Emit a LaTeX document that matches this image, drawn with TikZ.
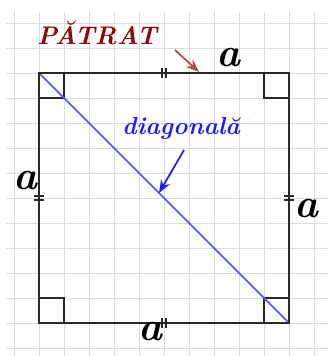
\documentclass[tikz,border=0pt]{standalone}
\usepackage{amsmath}
\usepackage{tikz}
\usetikzlibrary{arrows.meta,calc}
\definecolor{sqRed}{RGB}{140,10,10}
\definecolor{sqArrow}{RGB}{175,75,75}
\definecolor{sqBlue}{RGB}{30,30,250}
\definecolor{sqDiag}{RGB}{80,80,255}
\definecolor{sqEdge}{RGB}{40,40,40}

\begin{document}
\begin{tikzpicture}[
    x=0.5cm, y=0.5cm,
    gridline/.style={draw=black!14, line width=0.5pt, step=0.5cm},
    edge/.style    ={draw=sqEdge, line width=1.2pt},
    rightang/.style={draw=sqEdge, line width=0.9pt},
    tick/.style    ={draw=sqEdge, line width=0.9pt},
    side/.style    ={font=\fontsize{23}{24}\selectfont\bfseries\itshape},
    title/.style   ={font=\fontsize{14.5}{16}\selectfont\bfseries\itshape, text=sqRed},
    diaglbl/.style ={font=\fontsize{14}{16}\selectfont\bfseries\itshape, text=sqBlue},
    arr/.style     ={-{Stealth[length=2.6mm,width=2mm]}, line width=1pt}
]
\useasboundingbox (-1.56,-1.32) rectangle (11.56,12.92);
\draw[gridline] (-1.32,-1.32) grid (11.56,12.44);

% corners of the square
\coordinate (A) at (0,0);
\coordinate (B) at (10,0);
\coordinate (C) at (10,10);
\coordinate (D) at (0,10);

% right angles
\draw[rightang] (A) rectangle ++(1,1);
\draw[rightang] (B) rectangle ++(-1,1);
\draw[rightang] (C) rectangle ++(-1,-1);
\draw[rightang] (D) rectangle ++(1,-1);

\draw[sqDiag, line width=1pt] (D) -- (B);
\draw[edge] (A) -- (B) -- (C) -- (D) -- cycle;

% equal sides
\coordinate (mB) at ($(A)!0.5!(B)$);
\coordinate (mR) at ($(B)!0.5!(C)$);
\coordinate (mT) at ($(C)!0.5!(D)$);
\coordinate (mL) at ($(D)!0.5!(A)$);
\foreach \m/\a in {mT/0,mB/0,mL/90,mR/90}
  \foreach \s in {-0.08,0.08}
    \draw[tick] ($(\m)+(\a:\s)+(\a+90:0.2)$) -- ($(\m)+(\a:\s)-(\a+90:0.2)$);

\node[side] (aT) at (7.56,10.62) {a};
\node[side] (aL) at (-0.56,5.68) {a};
\node[side] (aR) at (10.68,4.56) {a};
\node[side] (aB) at (4.44,-0.36) {a};

\node[title] (patrat) at (2.32,11.62) {PĂTRAT};
\coordinate (pStart) at (5.44,10.92);
\coordinate (pEnd) at (6.4,10.04);
\draw[arr, sqArrow] (pStart) -- (pEnd);

\node[diaglbl] (diag) at (5.68,7.8) {diagonală};
\coordinate (dStart) at (5.8,6.92);
\coordinate (dEnd) at ($(D)!0.48!(B)$);
\draw[arr, sqBlue] (dStart) -- (dEnd);
\end{tikzpicture}
\end{document}
